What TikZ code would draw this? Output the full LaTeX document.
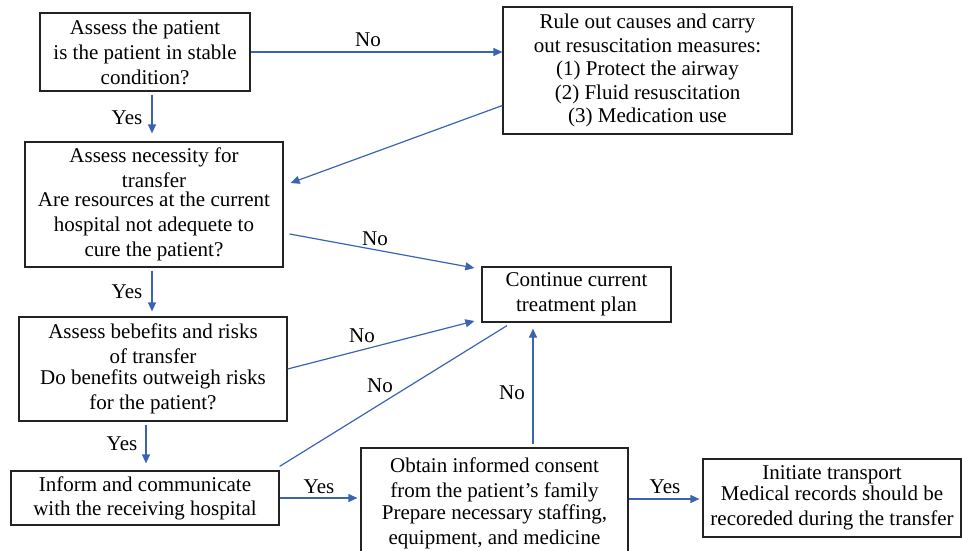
\documentclass[tikz,border=0pt]{standalone}
\usepackage{fontspec}
\setmainfont{Liberation Serif}
\usetikzlibrary{arrows.meta}
\definecolor{arrowblue}{RGB}{58,100,178}
\definecolor{boxline}{RGB}{35,35,35}
\begin{document}
\begin{tikzpicture}[x=1pt,y=-1pt,
  box/.style={draw=boxline, line width=1.2pt, inner sep=0pt, align=center,
    font=\fontsize{21}{25}\selectfont, text=black},
  lbl/.style={inner sep=0pt, font=\fontsize{21}{25}\selectfont, text=black},
  conn/.style={draw=arrowblue, line width=1.2pt},
  arr/.style={conn, -{Triangle[length=9pt,width=8pt]}},
]
\useasboundingbox (0,0) rectangle (962,550);
\clip (0,0) rectangle (962,550);

% boxes
\node[box, minimum width=210pt, minimum height=78pt] (A) at (145,52)
  {Assess the patient\\ is the patient in stable\\ condition?};
\node[box, minimum width=289pt, minimum height=127pt] (B) at (647.5,70.5)
  {Rule out causes and carry\\[-1.5pt] out resuscitation measures:\\[-1.5pt] (1) Protect the airway\\[-1.5pt] (2) Fluid resuscitation\\[-1.5pt] (3) Medication use};
\node[box, minimum width=258pt, minimum height=125pt] (C) at (154,204.5)
  {Assess necessity for\\ transfer\\[-6pt] Are resources at the current\\ hospital not adequete to\\ cure the patient?};
\node[box, minimum width=189pt, minimum height=55pt] (D) at (576.5,294.5)
  {Continue current\\ treatment plan};
\node[box, minimum width=268pt, minimum height=104pt] (E) at (153,369)
  {Assess bebefits and risks\\ of transfer\\[-4pt] Do benefits outweigh risks\\ for the patient?};
\node[box, minimum width=268pt, minimum height=54pt] (F) at (145,498)
  {Inform and communicate\\[-1pt] with the receiving hospital};
\node[box, minimum width=267pt, minimum height=110pt] (G) at (494.5,503)
  {Obtain informed consent\\ from the patient’s family\\[-3pt] Prepare necessary staffing,\\ equipment, and medicine};
\node[box, minimum width=258pt, minimum height=78pt] (H) at (832,498)
  {Initiate transport\\[-4pt] Medical records should be\\ recoreded during the transfer};

% connectors
\draw[arr] (A.east) -- (A.east -| B.west);
\draw[arr] ([yshift=-35pt]B.west) -- ([xshift=7pt,yshift=21.5pt]C.east);
\draw[arr] ([xshift=7pt,yshift=-3pt]A.south) -- ([xshift=-2pt,yshift=8pt]C.north);
\draw[arr] ([xshift=6pt,yshift=-29.5pt]C.east) -- ([xshift=-7pt,yshift=26.5pt]D.west);
\draw[arr] ([xshift=-2pt,yshift=-3pt]C.south) -- ([xshift=-1pt,yshift=5pt]E.north);
\draw[arr] (E.east) -- ([xshift=-7pt,yshift=-26.5pt]D.west);
\draw[arr] ([xshift=-7pt,yshift=-3pt]E.south) -- ([xshift=1pt,yshift=7pt]F.north);
\draw[conn] ([yshift=4pt]F.north east) -- ([xshift=-69.5pt,yshift=-3pt]D.south);
\draw[arr, shorten >=3pt] (F.east) -- (F.east -| G.west);
\draw[arr] ([xshift=38.5pt,yshift=3pt]G.north) -- ([xshift=38.5pt,yshift=-6pt]G.north |- D.south);
\draw[arr, shorten >=3pt] ([yshift=4pt]G.east) -- ([yshift=4pt]G.east -| H.west);

% labels
\node[lbl] (l1) at (368,40) {No};
\node[lbl] (l2) at (375,239) {No};
\node[lbl] (l3) at (362,336) {No};
\node[lbl] (l4) at (380,386) {No};
\node[lbl] (l5) at (512,393) {No};
\node[lbl] (l6) at (127,118) {Yes};
\node[lbl] (l7) at (127,292) {Yes};
\node[lbl] (l8) at (122,444) {Yes};
\node[lbl] (l9) at (319,487) {Yes};
\node[lbl] (l10) at (665,487) {Yes};
\end{tikzpicture}
\end{document}
